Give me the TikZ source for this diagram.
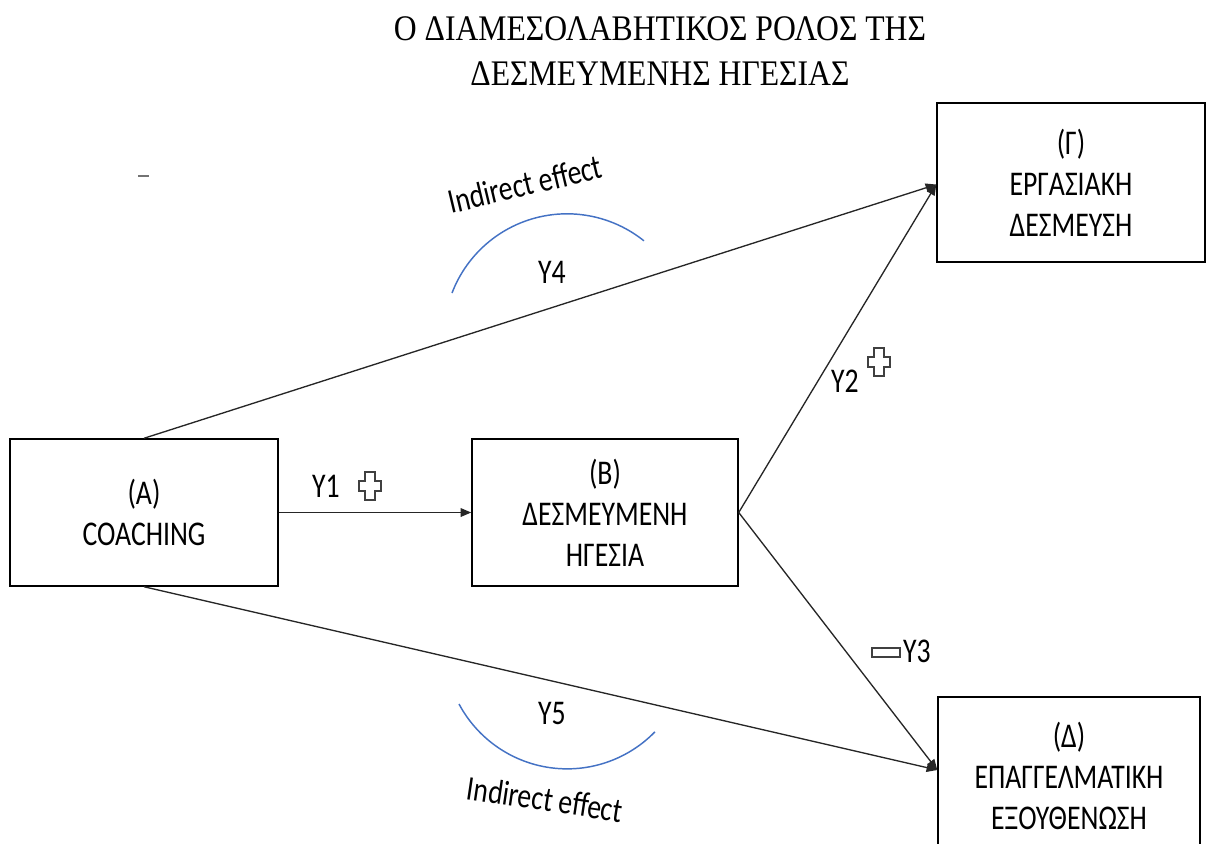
\documentclass[tikz,border=0pt]{standalone}
\usepackage{fontspec}
\setmainfont{Carlito}[FakeStretch=0.8]
\newfontfamily\titlefont{Liberation Serif}[FakeStretch=0.88]
\usetikzlibrary{arrows.meta,calc}

\tikzset{
  box/.style={draw=black, line width=1.1pt, align=center, inner sep=0pt,
    font=\fontsize{26}{30.75}\selectfont},
  link/.style={draw=black!85, line width=1pt,
    -{Triangle[length=8pt,width=6.5pt]}},
  lbl/.style={inner sep=0pt, font=\fontsize{26}{30.75}\selectfont},
  arcline/.style={draw=arcblue, line width=1.1pt},
  signline/.style={draw=black!75, line width=1pt},
  plusmark/.pic={
    \draw[signline] (-5,-14) -- (5,-14) -- (5,-5) -- (11,-5) -- (11,5) -- (5,5)
      -- (5,14) -- (-5,14) -- (-5,5) -- (-11,5) -- (-11,-5) -- (-5,-5) -- cycle;
  }
}
\definecolor{arcblue}{HTML}{4472C4}

\begin{document}
\begin{tikzpicture}[x=0.75pt,y=-0.75pt]
  \useasboundingbox (0,0) rectangle (1209,843);
  \clip (0,0) rectangle (1209,843);

  % title
  \node[inner sep=0pt, align=center, font=\titlefont\fontsize{27}{34}\selectfont]
    (title) at (660,51) {Ο ΔΙΑΜΕΣΟΛΑΒΗΤΙΚΟΣ ΡΟΛΟΣ ΤΗΣ\\ΔΕΣΜΕΥΜΕΝΗΣ ΗΓΕΣΙΑΣ};

  % variable boxes
  \node[box, minimum width=201pt, minimum height=110.25pt] (A) at (144,512.5)
    {(A)\\COACHING};
  \node[box, minimum width=199.5pt, minimum height=110.25pt] (B) at (605,512.5)
    {(B)\\ΔΕΣΜΕΥΜΕΝΗ\\ΗΓΕΣΙΑ};
  \node[box, minimum width=201pt, minimum height=119.25pt] (G) at (1071,182.5)
    {(Γ)\\ΕΡΓΑΣΙΑΚΗ\\ΔΕΣΜΕΥΣΗ};
  \node[box, minimum width=196.5pt, minimum height=118.5pt] (D) at (1069,776)
    {(Δ)\\ΕΠΑΓΓΕΛΜΑΤΙΚΗ\\ΕΞΟΥΘΕΝΩΣΗ};

  % paths
  \coordinate (Gin) at ($(G.west)+(0,2)$);
  \coordinate (Din) at ($(D.west)+(0,-6)$);
  \draw[link] (A.east) -- (B.west);
  \draw[link] (A.north) -- (Gin);
  \draw[link] (B.east) -- (Gin);
  \draw[link] (B.east) -- (Din);
  \draw[link] (A.south) -- (Din);

  % path labels and signs
  \node[lbl] (y1) at (326,486) {Y1};
  \pic at (370,486) {plusmark};
  \node[lbl] (y2) at (845,381) {Y2};
  \pic at (879,362) {plusmark};
  \node[lbl] (y3) at (917,651) {Y3};
  \draw[signline] (872,648) rectangle (900,657);
  \node[lbl] (y4) at (552,272) {Y4};
  \node[lbl] (y5) at (552,713) {Y5};

  % stray dash
  \draw[draw=black!55, line width=1.1pt] (138,176) -- (149,176);

  % indirect effects
  \draw[arcline] (452,293) arc[start angle=200.9, end angle=308.7, radius=123.1];
  \node[lbl, rotate=13.4] (ie1) at (525,184) {Indirect effect};
  \draw[arcline] (459,704) arc[start angle=151.9, end angle=44.3, radius=122.6];
  \node[lbl, rotate=-8.5] (ie2) at (545,799) {Indirect effect};
\end{tikzpicture}
\end{document}
